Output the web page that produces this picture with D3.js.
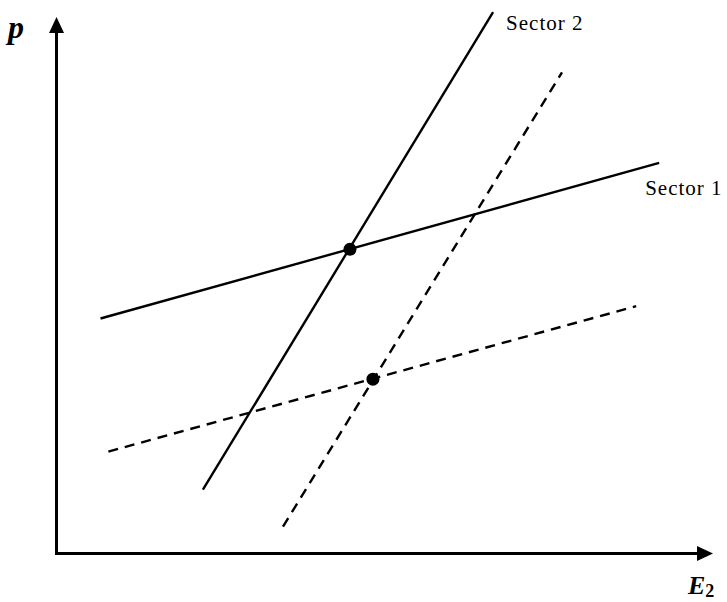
<!DOCTYPE html>
<html>
<head>
<meta charset="utf-8">
<script src="https://cdn.jsdelivr.net/npm/d3@7"></script>
<style>
    body { margin: 0; background: #fff; }
    svg { display: block; }
</style>
</head>
<body>
<div id="chart"></div>
<script>
// line end points in chart units (x: E2, y: p)
const sector1 = [[6.7, 43.8], [91.8, 72.8]];
const sector2 = [[22.3, 11.9], [66.5, 100.9]];
const sector1Shift = [[7.9, 19.0], [88.3, 46.1]];
const sector2Shift = [[34.5, 5.0], [77.0, 89.7]];
const equilibria = [[44.7, 56.7], [48.2, 32.5]];
const lineLabels = ["Sector 1", "Sector 2"];
const axisLabels = ["p", "E", "2"];

const width = 727;
const height = 602;

const svg = d3.select("#chart")
    .append("svg")
    .attr("width", width)
    .attr("height", height);

const xScale = d3.scaleLinear().domain([0, 100]).range([56.5, 713]);
const yScale = d3.scaleLinear().domain([0, 100]).range([553.5, 17]);

// axes with arrow heads
svg.append("line")
    .attr("x1", xScale(0)).attr("y1", yScale(0) + 1.5)
    .attr("x2", xScale(0)).attr("y2", yScale(100) + 14)
    .attr("stroke", "#000").attr("stroke-width", 3);
svg.append("line")
    .attr("x1", xScale(0) - 1.5).attr("y1", yScale(0))
    .attr("x2", xScale(100) - 14).attr("y2", yScale(0))
    .attr("stroke", "#000").attr("stroke-width", 3);
svg.append("path")
    .attr("d", `M${xScale(0)},${yScale(100)} L${xScale(0) - 7.5},${yScale(100) + 16} L${xScale(0) + 7.5},${yScale(100) + 16} Z`)
    .attr("fill", "#000");
svg.append("path")
    .attr("d", `M${xScale(100)},${yScale(0)} L${xScale(100) - 16},${yScale(0) - 7.5} L${xScale(100) - 16},${yScale(0) + 7.5} Z`)
    .attr("fill", "#000");

// sector lines
const line = d3.line()
    .x(function (d) { return xScale(d[0]); })
    .y(function (d) { return yScale(d[1]); });

const lines = [
    { pts: sector1, dashed: false },
    { pts: sector2, dashed: false },
    { pts: sector1Shift, dashed: true },
    { pts: sector2Shift, dashed: true }
];
for (let i = 0; i < lines.length; i++) {
    svg.append("path")
        .attr("d", line(lines[i].pts))
        .attr("fill", "none")
        .attr("stroke", "#000")
        .attr("stroke-width", 2.4)
        .attr("stroke-dasharray", lines[i].dashed ? "10,7" : null);
}

// equilibrium points
svg.selectAll(".dot")
    .data(equilibria)
    .enter()
    .append("circle")
    .attr("class", "dot")
    .attr("cx", function (d) { return xScale(d[0]); })
    .attr("cy", function (d) { return yScale(d[1]); })
    .attr("r", 6.5)
    .attr("fill", "#000");

// labels
svg.append("text")
    .attr("x", xScale(sector1[1][0]) - 14)
    .attr("y", yScale(sector1[1][1]) + 32)
    .attr("font-family", "Liberation Serif")
    .attr("font-size", "21px")
    .attr("letter-spacing", "1px")
    .text(lineLabels[0]);
svg.append("text")
    .attr("x", xScale(sector2[1][0]) + 13)
    .attr("y", yScale(sector2[1][1]) + 18)
    .attr("font-family", "Liberation Serif")
    .attr("font-size", "21px")
    .attr("letter-spacing", "1px")
    .text(lineLabels[1]);

svg.append("text")
    .attr("x", 8)
    .attr("y", 38)
    .attr("font-family", "Liberation Serif")
    .attr("font-weight", "bold")
    .attr("font-style", "italic")
    .attr("font-size", "32px")
    .text(axisLabels[0]);

const e2 = svg.append("text")
    .attr("x", 688)
    .attr("y", 594)
    .attr("font-family", "Liberation Serif")
    .attr("font-weight", "bold")
    .attr("font-style", "italic")
    .attr("font-size", "26px")
    .text(axisLabels[1]);
e2.append("tspan")
    .attr("dy", 3)
    .attr("font-style", "normal")
    .attr("font-size", "18px")
    .text(axisLabels[2]);
</script>
</body>
</html>
